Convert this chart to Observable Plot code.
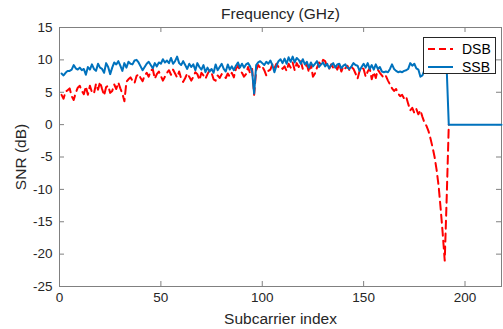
<!DOCTYPE html>
<html><head><meta charset="utf-8">
<script src="https://cdn.jsdelivr.net/npm/d3@7"></script>
<script src="https://cdn.jsdelivr.net/npm/@observablehq/plot@0.6"></script>
<style>
body{margin:0;background:#fff;}
#wrap{position:relative;width:503px;height:329px;overflow:hidden;}
#wrap svg{display:block;}
g[aria-label="x-axis label"], g[aria-label="y-axis label"]{font-size:15.5px;}
#legend{position:absolute;left:423px;top:37px;width:71px;height:35px;background:#fff;border:1px solid #262626;font:14px "Liberation Sans",Arial,sans-serif;color:#000;}
#legend .row{position:absolute;left:0;width:71px;height:18px;}
#legend svg{position:absolute;left:4px;top:7px;}
#legend span{position:absolute;left:38px;top:1px;line-height:16px;}
</style></head><body><div id="wrap"></div>
<script>
const seriesNames = ["DSB", "SSB"];
const seriesColors = ["#ff0000", "#0072bd"];
const xTicks = [0, 50, 100, 150, 200];
const yTicks = [-25, -20, -15, -10, -5, 0, 5, 10, 15];

// SNR (dB) per subcarrier index, starting at index 1
const dsb = [
  4.6, 4.0, 5.1, 5.3, 5.6, 4.4, 3.8, 4.9, 5.7, 6.0,
  5.2, 4.7, 5.9, 4.6, 6.0, 5.0, 4.8, 6.3, 5.4, 6.6,
  5.5, 4.5, 5.8, 6.0, 4.9, 5.2, 6.2, 5.5, 6.5, 5.6,
  4.8, 3.6, 6.6, 7.0, 7.3, 6.8, 6.4, 7.5, 7.8, 7.2,
  6.7, 7.6, 8.0, 7.4, 8.3, 8.6, 7.1, 7.8, 8.2, 7.5,
  6.8, 7.4, 8.0, 8.4, 7.7, 8.5, 7.9, 7.3, 8.2, 7.1,
  6.6, 7.2, 7.9, 7.4, 6.8, 7.4, 8.1, 7.8, 6.9, 8.0,
  7.6, 7.1, 7.8, 8.4, 8.0, 7.0, 6.8, 7.6, 7.2, 7.8,
  7.5, 7.2, 7.9, 7.4, 8.0, 7.3, 8.6, 9.1, 8.4, 8.0,
  7.4, 7.8, 8.9, 7.9, 8.6, 4.6, 8.4, 9.2, 8.8, 9.0,
  8.4, 7.6, 8.3, 8.5, 9.3, 8.7, 9.4, 8.9, 9.0, 8.6,
  9.0, 8.3, 9.4, 8.8, 9.6, 8.4, 9.5, 8.9, 9.8, 8.6,
  8.8, 9.3, 8.1, 9.3, 7.4, 7.9, 8.8, 9.6, 9.3, 10.0,
  9.8, 9.0, 8.6, 9.3, 8.8, 9.2, 8.5, 9.4, 8.2, 9.0,
  8.7, 9.1, 8.4, 8.9, 8.6, 7.9, 7.1, 8.3, 8.8, 8.6,
  7.4, 8.2, 8.7, 7.0, 8.1, 7.2, 8.5, 8.0, 7.6, 7.2,
  7.5, 6.8, 6.2, 5.6, 5.2, 5.5, 4.8, 4.4, 4.6, 4.0,
  4.3, 3.2, 2.2, 2.6, 1.8, 2.4, 1.6, 2.2, 1.2, 0.3,
  -0.2, -1.0, -2.2, -3.5, -5.0, -7.0, -9.5, -13.0, -16.8, -21.0,
  -11.0, 0.0
];
const ssb = [
  7.9, 7.6, 8.0, 8.3, 8.3, 8.5, 9.2, 8.7, 8.5, 8.8,
  8.4, 8.6, 7.7, 8.9, 8.5, 9.3, 8.6, 8.3, 9.4, 8.8,
  8.6, 8.0, 9.5, 8.9, 7.8, 8.8, 9.6, 9.3, 9.8, 9.1,
  8.3, 9.5, 8.8, 9.7, 9.4, 9.3, 9.9, 10.0, 9.6, 9.0,
  8.4, 8.9, 9.4, 9.7, 9.2, 8.7, 9.5, 9.0, 9.6, 9.4,
  10.1, 9.6, 9.9, 9.5, 10.3, 9.4, 9.8, 10.5, 9.5, 9.2,
  9.8, 9.2, 8.6, 9.4, 8.9, 9.3, 8.4, 9.5, 8.9, 8.5,
  9.2, 8.1, 8.8, 8.2, 8.6, 8.0, 9.3, 8.4, 8.9, 9.4,
  8.6, 8.2, 9.3, 8.5, 9.0, 8.4, 9.1, 9.6, 8.8, 9.4,
  8.8, 9.3, 9.5, 9.0, 8.2, 4.8, 9.2, 9.6, 9.8, 9.5,
  9.2, 9.7, 9.4, 9.9, 9.2, 8.1, 9.1, 9.8, 10.1, 9.5,
  10.2, 9.4, 10.4, 9.7, 10.5, 9.6, 10.3, 10.0, 9.4, 10.1,
  9.3, 9.7, 8.8, 9.6, 9.0, 9.4, 9.8, 8.9, 9.3, 9.6,
  9.0, 9.4, 8.7, 9.2, 9.5, 8.8, 9.3, 9.4, 8.7, 9.1,
  9.3, 8.8, 8.6, 9.0, 9.5, 9.2, 9.1, 8.3, 8.9, 9.4,
  8.8, 9.5, 8.6, 9.2, 8.5, 9.3, 8.6, 8.9, 8.2, 8.1,
  8.2, 8.1, 8.6, 9.3, 8.6, 8.3, 8.1, 8.2, 8.1, 8.3,
  8.4, 8.6, 9.5, 9.1, 9.4, 8.7, 8.5, 7.4, 7.6, 8.4,
  8.5, 8.6, 8.7, 8.5, 8.6, 8.4, 8.6, 8.5, 8.6, 8.5,
  8.4, 0, 0, 0, 0, 0, 0, 0, 0, 0,
  0, 0, 0, 0, 0, 0, 0, 0, 0, 0,
  0, 0, 0, 0, 0, 0, 0, 0
];

const W = 503, H = 329, mL = 59, mR = 2, mT = 27, mB = 43;
const fw = W - mL - mR, fh = H - mT - mB;
const axisGray = "#808080";
const dsbData = dsb.map((v, k) => ({i: k + 1, v}));
const ssbData = ssb.map((v, k) => ({i: k + 1, v}));

const chart = Plot.plot({
  width: W, height: H,
  marginLeft: mL, marginRight: mR, marginTop: mT, marginBottom: mB,
  style: {fontFamily: "'Liberation Sans', Arial, sans-serif", fontSize: "13.5px", color: "#262626", background: "#fff", overflow: "visible"},
  x: {domain: [0, 218], ticks: xTicks, tickFormat: d => String(d), label: "Subcarrier index", labelAnchor: "center", labelArrow: "none", labelOffset: 37, tickSize: 0, tickPadding: 6},
  y: {domain: [-25, 15], ticks: yTicks, tickFormat: d => String(d).replace("−", "-"), label: "SNR (dB)", labelAnchor: "center", labelArrow: "none", labelOffset: 45, tickSize: 0, tickPadding: 7},
  marks: [
    Plot.frame({stroke: axisGray}),
    Plot.tickX(xTicks, {x: d => d, stroke: axisGray, insetTop: fh - 5}),
    Plot.tickX(xTicks, {x: d => d, stroke: axisGray, insetBottom: fh - 5}),
    Plot.tickY(yTicks, {y: d => d, stroke: axisGray, insetRight: fw - 5}),
    Plot.tickY(yTicks, {y: d => d, stroke: axisGray, insetLeft: fw - 5}),
    Plot.line(dsbData, {x: "i", y: "v", stroke: seriesColors[0], strokeWidth: 2, strokeDasharray: "8,5"}),
    Plot.line(ssbData, {x: "i", y: "v", stroke: seriesColors[1], strokeWidth: 2}),
    Plot.text(["Frequency (GHz)"], {text: d => d, frameAnchor: "top", dy: -20, fontSize: 15.5, fill: "#262626"})
  ]
});
const wrap = document.getElementById("wrap");
wrap.appendChild(chart);

const legend = document.createElement("div");
legend.id = "legend";
seriesNames.forEach((name, k) => {
  const row = document.createElement("div");
  row.className = "row";
  row.style.top = (k * 18 + 2) + "px";
  const dash = k === 0 ? 'stroke-dasharray="7,4"' : "";
  row.innerHTML = `<svg width="26" height="4"><line x1="0" y1="2" x2="25" y2="2" stroke="${seriesColors[k]}" stroke-width="2" ${dash}/></svg><span>${name}</span>`;
  legend.appendChild(row);
});
wrap.appendChild(legend);
</script>
</body></html>
